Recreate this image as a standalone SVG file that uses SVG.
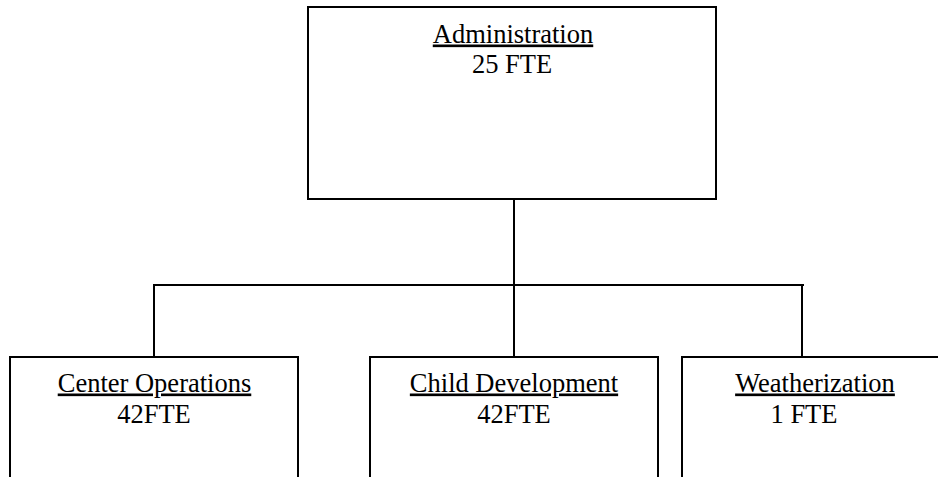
<svg xmlns="http://www.w3.org/2000/svg" width="938" height="477" viewBox="0 0 938 477">
  <style>
    .box { fill: #ffffff; stroke: #000000; stroke-width: 2; }
    .wire { fill: none; stroke: #000000; stroke-width: 2; }
    .title { font-family: "Liberation Serif", "Times New Roman", serif; font-size: 26.5px; fill: #000000; text-decoration: underline; }
    .fte { font-family: "Liberation Serif", "Times New Roman", serif; font-size: 26.5px; fill: #000000; }
  </style>
  <rect width="938" height="477" fill="#ffffff"/>

  <g id="connectors">
    <line class="wire" x1="514" y1="199" x2="514" y2="357"/>
    <line class="wire" x1="153" y1="285" x2="804" y2="285"/>
    <line class="wire" x1="154" y1="285" x2="154" y2="357"/>
    <line class="wire" x1="802" y1="285" x2="802" y2="357"/>
  </g>

  <g id="administration">
    <rect class="box" x="308" y="7" width="408" height="192"/>
    <text class="title" x="513" y="42.5" text-anchor="middle">Administration</text>
    <text class="fte" x="512" y="72.5" text-anchor="middle">25 FTE</text>
  </g>

  <g id="center-operations">
    <path class="box" d="M10 478 V357 H298 V478"/>
    <text class="title" x="154.5" y="391.5" text-anchor="middle">Center Operations</text>
    <text class="fte" x="154" y="423" text-anchor="middle">42FTE</text>
  </g>

  <g id="child-development">
    <path class="box" d="M370 478 V357 H658 V478"/>
    <text class="title" x="514" y="391.5" text-anchor="middle">Child Development</text>
    <text class="fte" x="514" y="423" text-anchor="middle">42FTE</text>
  </g>

  <g id="weatherization">
    <path class="box" d="M682 478 V357 H938"/>
    <text class="title" x="815" y="391.5" text-anchor="middle">Weatherization</text>
    <text class="fte" x="804" y="423" text-anchor="middle">1 FTE</text>
  </g>
</svg>
